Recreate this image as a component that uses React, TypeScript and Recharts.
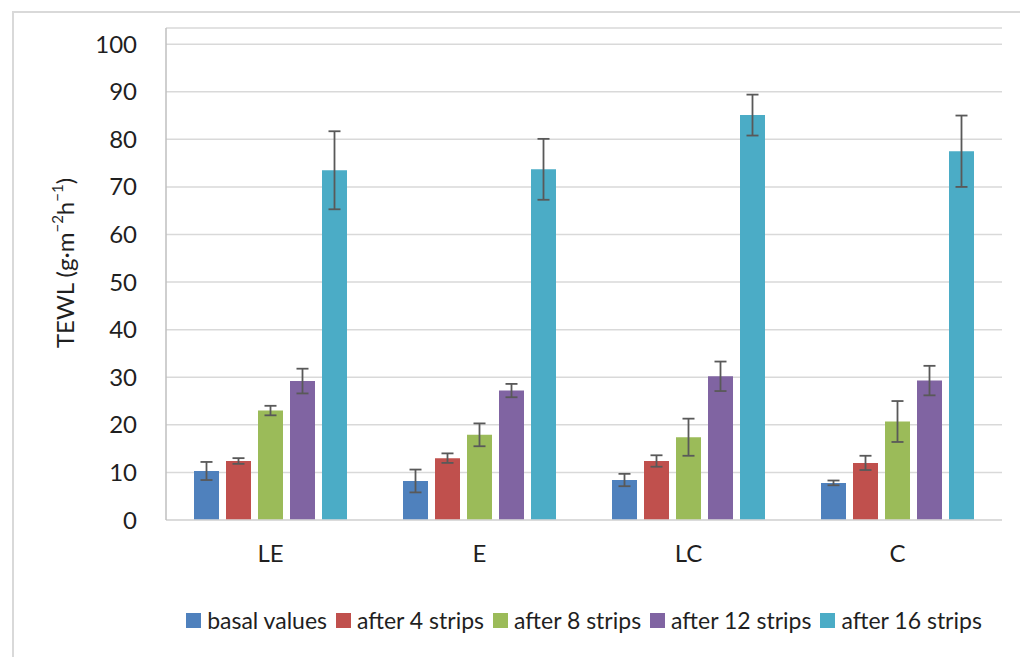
import React from "react";
import {
  BarChart,
  Bar,
  ErrorBar,
  CartesianGrid,
  XAxis,
  YAxis,
  Legend,
} from "recharts";

// TEWL per site, after repeated tape stripping
const sites = ["LE", "E", "LC", "C"];
const basal = [10.3, 8.2, 8.4, 7.8];
const basalErr = [1.9, 2.4, 1.3, 0.5];
const strips4 = [12.4, 13.0, 12.4, 12.0];
const strips4Err = [0.6, 1.0, 1.2, 1.5];
const strips8 = [23.0, 17.9, 17.4, 20.7];
const strips8Err = [1.0, 2.4, 3.9, 4.3];
const strips12 = [29.2, 27.2, 30.2, 29.3];
const strips12Err = [2.6, 1.4, 3.1, 3.1];
const strips16 = [73.5, 73.7, 85.1, 77.5];
const strips16Err = [8.2, 6.4, 4.3, 7.5];
const yTicks = [0, 10, 20, 30, 40, 50, 60, 70, 80, 90, 100];

const series = [
  { key: "basal", name: "basal values", color: "#4F81BD" },
  { key: "s4", name: "after 4 strips", color: "#C0504D" },
  { key: "s8", name: "after 8 strips", color: "#9BBB59" },
  { key: "s12", name: "after 12 strips", color: "#8064A2" },
  { key: "s16", name: "after 16 strips", color: "#4BACC6" },
];

const data = sites.map((site, i) => ({
  site,
  basal: basal[i],
  basalErr: basalErr[i],
  s4: strips4[i],
  s4Err: strips4Err[i],
  s8: strips8[i],
  s8Err: strips8Err[i],
  s12: strips12[i],
  s12Err: strips12Err[i],
  s16: strips16[i],
  s16Err: strips16Err[i],
}));

const FONT = "Lato, 'Open Sans', sans-serif";
const TEXT = "#1f1f1f";

const YLabel = (props: any) => {
  const vb = props.viewBox || { x: 0, y: 0, height: 0 };
  const cx = vb.x + 64;
  const cy = vb.y + vb.height / 2 - 11;
  return (
    <text
      x={cx}
      y={cy}
      transform={`rotate(-90, ${cx}, ${cy})`}
      textAnchor="middle"
      dominantBaseline="central"
      fontSize={24}
      fontFamily={FONT}
      fill={TEXT}
    >
      TEWL (g·m
      <tspan fontSize={15} dy={-7}>−2</tspan>
      <tspan dy={7}>h</tspan>
      <tspan fontSize={15} dy={-7}>−1</tspan>
      <tspan dy={7}>)</tspan>
    </text>
  );
};

const renderLegend = () => (
  <div
    style={{
      display: "flex",
      justifyContent: "center",
      alignItems: "center",
      fontFamily: FONT,
      fontSize: 23,
      color: TEXT,
      paddingLeft: 166,
      whiteSpace: "nowrap",
    }}
  >
    {series.map((s, i) => (
      <span
        key={s.key}
        style={{ display: "flex", alignItems: "center", marginRight: i < series.length - 1 ? 9 : 0 }}
      >
        <span
          style={{
            display: "inline-block",
            width: 15,
            height: 15,
            background: s.color,
            marginRight: 6,
          }}
        />
        {s.name}
      </span>
    ))}
  </div>
);

export default function App() {
  return (
    <div
      style={{
        position: "fixed",
        left: 0,
        top: 0,
        width: 1020,
        height: 657,
        overflow: "hidden",
        background: "#fff",
      }}
    >
      <div
        style={{
          position: "absolute",
          left: 12,
          top: 11,
          width: 1100,
          height: 700,
          borderTop: "2px solid #d9d9d9",
          borderLeft: "2px solid #d9d9d9",
        }}
      />
      <div style={{ position: "absolute", left: 0, top: 0 }}>
        <BarChart
          width={1020}
          height={657}
          data={data}
          margin={{ top: 28, right: 18, bottom: 16, left: 0 }}
          barCategoryGap={28}
          barGap={7}
        >
          <CartesianGrid vertical={false} stroke="#d9d9d9" strokeWidth={1.5} />
          <XAxis
            dataKey="site"
            height={86}
            axisLine={{ stroke: "#d9d9d9", strokeWidth: 1.5 }}
            tickLine={false}
            tickMargin={19}
            tick={{ fontSize: 24, fontFamily: FONT, fill: TEXT }}
          />
          <YAxis
            width={166}
            domain={[0, 103.4]}
            ticks={yTicks}
            interval={0}
            axisLine={{ stroke: "#bfbfbf", strokeWidth: 1.5 }}
            tickLine={false}
            tickMargin={23}
            tick={{ fontSize: 24, fontFamily: FONT, fill: TEXT }}
            label={<YLabel />}
          />
          <Legend verticalAlign="bottom" content={renderLegend} height={35} />
          {series.map((s) => (
            <Bar
              key={s.key}
              dataKey={s.key}
              name={s.name}
              fill={s.color}
              isAnimationActive={false}
            >
              <ErrorBar
                dataKey={`${s.key}Err`}
                width={6}
                stroke="#595959"
                strokeWidth={1.8}
                direction="y"
              />
            </Bar>
          ))}
        </BarChart>
      </div>
    </div>
  );
}
